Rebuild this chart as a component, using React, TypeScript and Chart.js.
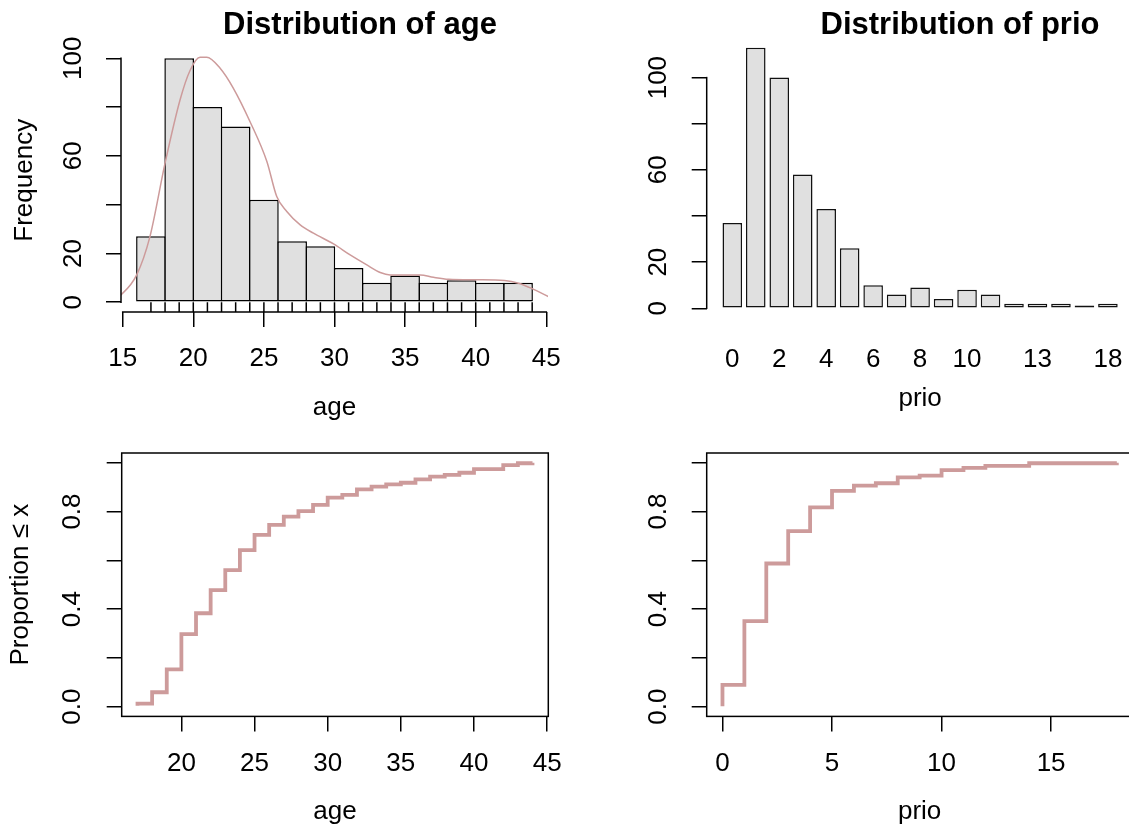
import React, { useEffect, useRef } from 'react';
import { Chart, registerables } from 'chart.js';

Chart.register(...registerables);

const FONT = '"Liberation Sans", Arial, Helvetica, sans-serif';

// ---------------- Data: age histogram ----------------
const ageBreaks = [16, 18, 20, 22, 24, 26, 28, 30, 32, 34, 36, 38, 40, 42, 44];
const ageCounts = [27, 100, 80, 72, 42, 25, 23, 14, 8, 11, 8, 9, 8, 8];
const ageRug = [17, 18, 19, 20, 21, 22, 23, 24, 25, 26, 27, 28, 29, 30, 31, 32, 33, 34, 35, 36, 37, 38, 39, 40, 41, 42, 43, 44];
const ageDensityX = [14.4, 14.93, 15.99, 16.93, 18.0, 19.06, 19.77, 20.48, 20.95, 21.9, 22.84, 24.02, 25.21, 25.91, 26.62, 27.57, 28.51, 29.93, 31.11, 32.29, 33.24, 33.94, 36.07, 37.01, 38.08, 40.09, 42.04, 43.04, 44.1, 45.16, 45.6];
const ageDensityY = [1.5, 3.3, 11.2, 26.9, 57.0, 82.9, 95.0, 100.4, 100.4, 95.9, 87.7, 74.0, 57.7, 43.3, 37.2, 31.7, 28.3, 23.9, 19.4, 15.3, 12.2, 11.2, 11.2, 10.2, 9.4, 9.2, 8.9, 7.8, 5.3, 2.3, 1.4];
const ageHistXTicks = [15, 20, 25, 30, 35, 40, 45];
const freqTicks = [0, 20, 40, 60, 80, 100];
const freqTickLabels = ['0', '20', '', '60', '', '100'];

// ---------------- Data: prio bar chart ----------------
const prioCategories = ['0', '1', '2', '3', '4', '5', '6', '7', '8', '9', '10', '11', '12', '13', '14', '15', '18'];
const prioCounts = [37, 113, 100, 58, 43, 26, 10, 6, 9, 4, 8, 6, 2, 2, 2, 1.2, 2];
const prioShownLabels = ['0', '2', '4', '6', '8', '10', '13', '18'];

// ---------------- Data: ECDFs ----------------
const ageEcdfX = [17, 17, 18, 19, 20, 21, 22, 23, 24, 25, 26, 27, 28, 29, 30, 31, 32, 33, 34, 35, 36, 37, 38, 39, 40, 42, 43, 44];
const ageEcdfY = [0.004, 0.012, 0.059, 0.153, 0.297, 0.383, 0.478, 0.56, 0.642, 0.704, 0.745, 0.779, 0.802, 0.827, 0.857, 0.868, 0.891, 0.902, 0.911, 0.918, 0.932, 0.943, 0.95, 0.959, 0.974, 0.99, 0.998, 1.0];
const prioEcdfX = [0, 0, 1, 2, 3, 4, 5, 6, 7, 8, 9, 10, 11, 12, 14, 18];
const prioEcdfY = [0.002, 0.089, 0.351, 0.587, 0.72, 0.817, 0.885, 0.906, 0.916, 0.94, 0.947, 0.97, 0.979, 0.987, 0.998, 1.0];
const ecdfYTicks = [0, 0.2, 0.4, 0.6, 0.8, 1.0];
const ecdfYTickLabels = ['0.0', '', '0.4', '', '0.8', ''];
const ageEcdfXTicks = [20, 25, 30, 35, 40, 45];
const prioEcdfXTicks = [0, 5, 10, 15];

// ---------------- Styles ----------------
const BAR_FILL = '#E0E0E0';
const CURVE = '#CD9B9B';
const LW = 1.5;
const tickFont = { family: FONT, size: 26, lineHeight: 1.2 };
const labelFont = { family: FONT, size: 26, lineHeight: 1.2 };
const titleFont = { family: FONT, size: 31, weight: 'bold', lineHeight: 1 };

// R barplot layout (width 1, space 0.2)
const BAR_W = 1;
const BAR_SPACE = 0.2;
const prioCenters = prioCategories.map((_, i) => BAR_SPACE + BAR_W / 2 + i * (BAR_W + BAR_SPACE));

const rAxesPlugin = {
  id: 'rAxes',
  afterDatasetsDraw(chart: any, _args: any, opts: any) {
    const { ctx, chartArea: a, scales } = chart;
    ctx.save();
    ctx.strokeStyle = '#000';
    ctx.lineWidth = LW;
    if (opts.box) {
      ctx.strokeRect(a.left, a.top, a.right - a.left, a.bottom - a.top);
    }
    if (opts.xLine) {
      ctx.beginPath();
      ctx.moveTo(scales.x.getPixelForValue(opts.xLine[0]) - LW / 2, a.bottom);
      ctx.lineTo(scales.x.getPixelForValue(opts.xLine[1]) + LW / 2, a.bottom);
      ctx.stroke();
    }
    if (opts.yLine) {
      ctx.beginPath();
      ctx.moveTo(a.left, scales.y.getPixelForValue(opts.yLine[0]) + LW / 2);
      ctx.lineTo(a.left, scales.y.getPixelForValue(opts.yLine[1]) - LW / 2);
      ctx.stroke();
    }
    ctx.restore();
  },
};

function tickGrid(show: boolean) {
  return {
    display: show,
    drawOnChartArea: false,
    drawTicks: show,
    tickLength: 15,
    tickWidth: LW,
    lineWidth: LW,
    tickColor: '#000',
    color: '#000',
    offset: false,
  };
}

function fixedTicks(values: number[]) {
  return (scale: any) => {
    scale.ticks = values.map((v) => ({ value: v }));
  };
}

function xAxis(o: any) {
  return {
    type: 'linear',
    position: 'bottom',
    min: o.min,
    max: o.max,
    offset: false,
    bounds: 'data',
    afterBuildTicks: fixedTicks(o.ticks),
    afterFit: (s: any) => {
      s.height = o.height;
    },
    ticks: {
      autoSkip: false,
      minRotation: 0,
      maxRotation: 0,
      padding: o.tickPad,
      color: '#000',
      font: tickFont,
      callback: (v: any, i: number) => (o.labels ? o.labels[i] : String(v)),
    },
    grid: tickGrid(o.drawTicks !== false),
    border: { display: false },
    title: {
      display: true,
      text: o.title,
      color: '#000',
      font: labelFont,
      padding: { top: 0, bottom: o.titlePad },
    },
  };
}

function yAxis(o: any) {
  return {
    type: 'linear',
    position: 'left',
    min: o.min,
    max: o.max,
    bounds: 'data',
    afterBuildTicks: fixedTicks(o.ticks),
    afterFit: (s: any) => {
      s.width = o.width;
    },
    ticks: {
      autoSkip: false,
      minRotation: 90,
      maxRotation: 90,
      crossAlign: 'center',
      padding: o.tickPad,
      color: '#000',
      font: tickFont,
      callback: (_v: any, i: number) => o.labels[i],
    },
    grid: tickGrid(true),
    border: { display: false },
    title: {
      display: !!o.title,
      text: o.title || '',
      color: '#000',
      font: labelFont,
      padding: { top: o.titlePad || 0, bottom: 0 },
    },
  };
}

function spacer(width: number) {
  return {
    type: 'linear',
    position: 'right',
    display: true,
    ticks: { display: false },
    grid: { display: false, drawTicks: false },
    border: { display: false },
    title: { display: false },
    afterFit: (s: any) => {
      s.width = width;
    },
  };
}

function baseOptions(extra: any) {
  return {
    responsive: false,
    animation: false,
    devicePixelRatio: 1,
    events: [],
    ...extra,
  };
}

function buildAgeHist() {
  const centers = ageCounts.map((_, i) => (ageBreaks[i] + ageBreaks[i + 1]) / 2);
  const yMin = -4;
  const rugData: any[] = [];
  ageRug.forEach((a) => {
    rugData.push({ x: a, y: yMin }, { x: a, y: 0 }, { x: a, y: null });
  });
  return {
    type: 'bar',
    data: {
      datasets: [
        {
          type: 'bar',
          data: centers.map((x, i) => ({ x, y: ageCounts[i] })),
          backgroundColor: BAR_FILL,
          borderColor: '#000',
          borderWidth: LW,
          borderSkipped: false,
          categoryPercentage: 1,
          barPercentage: 1.05,
          order: 3,
        },
        {
          type: 'line',
          data: rugData,
          borderColor: '#000',
          borderWidth: LW,
          pointRadius: 0,
          spanGaps: false,
          order: 2,
        },
        {
          type: 'line',
          data: ageDensityX.map((x, i) => ({ x, y: ageDensityY[i] })),
          borderColor: CURVE,
          borderWidth: 1.5,
          pointRadius: 0,
          cubicInterpolationMode: 'monotone',
          order: 1,
        },
      ],
    },
    options: baseOptions({
      layout: { padding: 0 },
      plugins: {
        legend: { display: false },
        tooltip: { enabled: false },
        title: {
          display: true,
          text: 'Distribution of age',
          color: '#000',
          font: titleFont,
          padding: { top: 10.2, bottom: 7.3 },
        },
        rAxes: { xLine: [15, 45], yLine: [0, 100] },
      },
      scales: {
        x: xAxis({ min: 14.88, max: 45.12, ticks: ageHistXTicks, title: 'age', tickPad: 16.4, titlePad: 17, height: 128 }),
        y: yAxis({ min: yMin, max: 104, ticks: freqTicks, labels: freqTickLabels, width: 121, tickPad: 10.8, title: 'Frequency', titlePad: 8.9 }),
        sp: spacer(172),
      },
    }),
    plugins: [rAxesPlugin],
  };
}

function buildPrioBar() {
  const shownIdx = prioCategories.map((c, i) => (prioShownLabels.includes(c) ? i : -1)).filter((i) => i >= 0);
  return {
    type: 'bar',
    data: {
      datasets: [
        {
          type: 'bar',
          data: prioCenters.map((x, i) => ({ x, y: prioCounts[i] })),
          backgroundColor: BAR_FILL,
          borderColor: '#111',
          borderWidth: LW,
          borderSkipped: false,
          categoryPercentage: 1,
          barPercentage: BAR_W / (BAR_W + BAR_SPACE),
        },
      ],
    },
    options: baseOptions({
      layout: { padding: 0 },
      plugins: {
        legend: { display: false },
        tooltip: { enabled: false },
        title: {
          display: true,
          text: 'Distribution of prio',
          color: '#000',
          font: titleFont,
          padding: { top: 10.2, bottom: -4.1 },
        },
        rAxes: { yLine: [0, 100] },
      },
      scales: {
        x: xAxis({
          min: -0.608,
          max: 21.208,
          ticks: shownIdx.map((i) => prioCenters[i]),
          labels: shownIdx.map((i) => prioCategories[i]),
          title: 'prio',
          tickPad: 23,
          titlePad: 26,
          height: 118.6,
          drawTicks: false,
        }),
        y: yAxis({ min: -5.695, max: 117.565, ticks: freqTicks, labels: freqTickLabels, width: 126.7, tickPad: 10.8 }),
        sp: spacer(206.5),
      },
    }),
    plugins: [rAxesPlugin],
  };
}

function buildEcdf(xs: number[], ys: number[], o: any) {
  return {
    type: 'line',
    data: {
      datasets: [
        {
          data: xs.map((x, i) => ({ x, y: ys[i] })),
          borderColor: CURVE,
          borderWidth: 3.8,
          borderJoinStyle: 'miter',
          borderCapStyle: 'butt',
          pointRadius: 0,
          stepped: 'before',
          fill: false,
        },
      ],
    },
    options: baseOptions({
      layout: { padding: { top: 33, right: o.padRight, left: 0, bottom: 0 } },
      plugins: {
        legend: { display: false },
        tooltip: { enabled: false },
        title: { display: false },
        rAxes: { box: true },
      },
      scales: {
        x: xAxis({ min: o.xMin, max: o.xMax, ticks: o.xTicks, title: o.xTitle, tickPad: 16.8, titlePad: -1.4, height: 109.6 }),
        y: yAxis({
          min: -0.04,
          max: 1.04,
          ticks: ecdfYTicks,
          labels: ecdfYTickLabels,
          width: o.yWidth,
          tickPad: o.yTickPad,
          title: o.yTitle,
          titlePad: 5.4,
        }),
      },
    }),
    plugins: [rAxesPlugin],
  };
}

function buildAgeEcdf() {
  return buildEcdf(ageEcdfX, ageEcdfY, {
    xMin: 15.92,
    xMax: 45.08,
    xTicks: ageEcdfXTicks,
    xTitle: 'age',
    yTitle: 'Proportion \u2264 x',
    yWidth: 121.7,
    yTickPad: 15.6,
    padRight: 71.7,
  });
}

function buildPrioEcdf() {
  return buildEcdf(prioEcdfX, prioEcdfY, {
    xMin: -0.72,
    xMax: 18.72,
    xTicks: prioEcdfXTicks,
    xTitle: 'prio',
    yTitle: '',
    yWidth: 126.7,
    yTickPad: 15,
    padRight: 47.4,
  });
}

function Panel(props: { left: number; top: number; width: number; height: number; build: () => any }) {
  const ref = useRef<HTMLCanvasElement | null>(null);
  useEffect(() => {
    if (!ref.current) return;
    const chart = new Chart(ref.current, props.build());
    return () => chart.destroy();
  }, []);
  return (
    <canvas
      ref={ref}
      width={props.width}
      height={props.height}
      style={{ position: 'absolute', left: props.left, top: props.top, width: props.width, height: props.height, display: 'block' }}
    />
  );
}

export default function App() {
  return (
    <div
      style={{
        position: 'fixed',
        left: 0,
        top: 0,
        width: 1129,
        height: 826,
        overflow: 'hidden',
        background: '#ffffff',
      }}
    >
      <Panel left={0} top={0} width={720} height={440} build={buildAgeHist} />
      <Panel left={580} top={0} width={760} height={440} build={buildPrioBar} />
      <Panel left={0} top={420} width={620} height={406} build={buildAgeEcdf} />
      <Panel left={580} top={420} width={600} height={406} build={buildPrioEcdf} />
    </div>
  );
}
